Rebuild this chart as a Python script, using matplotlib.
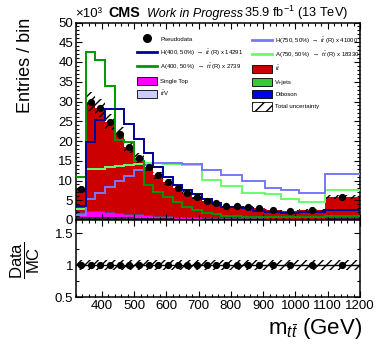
import numpy as np
import matplotlib
matplotlib.use('Agg')
import matplotlib.pyplot as plt
from matplotlib.patches import Patch
from matplotlib.lines import Line2D
from matplotlib.ticker import MultipleLocator

plt.rcParams['font.family'] = ['Liberation Sans', 'DejaVu Sans']
plt.rcParams['mathtext.fontset'] = 'custom'
plt.rcParams['mathtext.rm'] = 'Liberation Sans'
plt.rcParams['mathtext.it'] = 'Liberation Sans:italic'
plt.rcParams['mathtext.bf'] = 'Liberation Sans:bold'
plt.rcParams['hatch.linewidth'] = 1.0
plt.rcParams['hatch.color'] = 'black'

# bin edges m_tt (GeV)
edges = [320, 350, 380, 410, 440, 470, 500, 530, 560, 590, 620, 650, 680, 710,
         740, 770, 800, 835, 870, 905, 955, 1010, 1090, 1200]

# contenidos por bin (x10^3 entries)
pseudodata = [7.8, 29.9, 28.4, 24.9, 21.7, 18.4, 15.7, 13.4, 11.3, 9.7, 8.2, 6.9,
              5.9, 4.9, 4.2, 3.6, 3.5, 3.3, 3.0, 2.5, 2.4, 2.5, 5.9]
ttbar = [5.75, 27.54, 26.19, 22.85, 19.89, 16.8, 14.29, 12.13, 10.18, 8.74, 7.33, 6.12,
         5.2, 4.28, 3.66, 3.13, 3.03, 2.91, 2.62, 2.17, 2.09, 2.18, 5.19]
single_top = [1.3, 1.5, 1.4, 1.3, 1.1, 0.95, 0.85, 0.75, 0.65, 0.55, 0.5, 0.45,
              0.4, 0.35, 0.3, 0.25, 0.25, 0.2, 0.2, 0.15, 0.15, 0.15, 0.3]
vjets = [0.5, 0.5, 0.45, 0.4, 0.38, 0.35, 0.3, 0.28, 0.25, 0.22, 0.2, 0.18,
         0.16, 0.15, 0.13, 0.12, 0.12, 0.1, 0.1, 0.1, 0.09, 0.1, 0.25]
diboson = [0.05, 0.06, 0.06, 0.05, 0.05, 0.05, 0.04, 0.04, 0.04, 0.03, 0.03, 0.03,
           0.03, 0.02, 0.02, 0.02, 0.02, 0.02, 0.02, 0.02, 0.02, 0.02, 0.04]
ttv = [0.2, 0.3, 0.3, 0.3, 0.28, 0.25, 0.22, 0.2, 0.18, 0.16, 0.14, 0.12,
       0.11, 0.1, 0.09, 0.08, 0.08, 0.07, 0.06, 0.06, 0.05, 0.05, 0.12]
rel_unc = [0.08, 0.08, 0.08, 0.08, 0.08, 0.08, 0.08, 0.08, 0.08, 0.08, 0.08, 0.08,
           0.08, 0.08, 0.08, 0.08, 0.08, 0.08, 0.08, 0.08, 0.08, 0.08, 0.08]

# señales escaladas
h400 = [3.5, 19.8, 25.4, 28.0, 28.0, 24.4, 20.4, 17.0, 13.5, 10.8, 8.9, 7.6,
        6.6, 5.3, 4.4, 3.4, 3.4, 3.0, 2.3, 1.9, 1.7, 2.0, 2.5]
a400 = [10.8, 42.5, 40.5, 33.9, 20.3, 19.8, 15.0, 8.8, 7.2, 5.8, 4.6, 3.4,
        2.5, 1.8, 1.4, 1.1, 0.9, 0.8, 0.8, 0.7, 0.7, 0.7, 0.9]
h750 = [1.2, 5.3, 6.8, 8.3, 10.0, 11.2, 12.6, 14.0, 14.5, 14.5, 14.5, 14.3,
        14.3, 12.7, 12.7, 11.3, 11.3, 9.8, 9.8, 8.2, 7.5, 6.9, 11.6]
a750 = [2.8, 12.8, 13.0, 13.3, 13.6, 13.9, 14.2, 14.4, 14.4, 14.3, 14.2, 14.0,
        14.0, 10.2, 10.2, 8.7, 8.7, 6.8, 6.8, 6.5, 5.3, 4.5, 7.6]

c_ttbar, c_st, c_vj, c_db, c_ttv = '#cc0000', '#ff00ff', '#33cc33', '#0000ee', '#ccccff'
c_h400, c_a400, c_h750, c_a750 = '#000099', '#009900', '#7777ff', '#66ff66'

edges_a = np.array(edges, dtype=float)
centers = 0.5 * (edges_a[1:] + edges_a[:-1])

fig = plt.figure(figsize=(3.77, 3.52), dpi=100)
ax = fig.add_axes([76/377, 1 - 220/352, 284/377, 197.5/352])
rax = fig.add_axes([76/377, 1 - 297/352, 284/377, 77/352])

# stack
bottom = np.zeros(len(ttbar))
for vals, col, ec, lw in [(vjets, c_vj, 'black', 0.4), (diboson, c_db, 'black', 0.4),
                          (ttv, c_ttv, 'black', 0.4), (single_top, c_st, 'black', 0.4),
                          (ttbar, c_ttbar, c_ttbar, 0.0)]:
    top = bottom + np.array(vals)
    ax.stairs(top, edges, baseline=bottom, fill=True, facecolor=col,
              edgecolor=ec, linewidth=lw)
    bottom = top
mc_total = bottom
unc = np.array(rel_unc)

ax.stairs(mc_total * (1 + unc), edges, baseline=mc_total * (1 - unc), fill=True,
          facecolor='none', edgecolor='black', hatch='////', linewidth=0.0, zorder=3)

for vals, col in [(a750, c_a750), (h750, c_h750), (a400, c_a400), (h400, c_h400)]:
    ax.stairs(vals, edges, color=col, linewidth=1.4, baseline=None, zorder=4)

ax.plot(centers, pseudodata, 'o', color='black', ms=4.2, zorder=5)

ax.set_xlim(320, 1200)
ax.set_ylim(0, 50)
ax.xaxis.set_major_locator(MultipleLocator(100))
ax.xaxis.set_minor_locator(MultipleLocator(20))
ax.yaxis.set_major_locator(MultipleLocator(5))
ax.yaxis.set_minor_locator(MultipleLocator(1))
ax.set_xticklabels([])

# ratio
ratio = np.array(pseudodata) / mc_total
rax.stairs(1 + unc, edges, baseline=1 - unc, fill=True, facecolor='none',
           edgecolor='black', hatch='////', linewidth=0.0)
rax.axhline(1, color='black', lw=1)
rax.plot(centers, ratio, 'o', color='black', ms=4.2, zorder=5)
rax.set_xlim(320, 1200)
rax.set_ylim(0.5, 1.71)
rax.xaxis.set_major_locator(MultipleLocator(100))
rax.xaxis.set_minor_locator(MultipleLocator(20))
rax.yaxis.set_minor_locator(MultipleLocator(0.25))
rax.set_yticks([0.5, 1, 1.5])
rax.set_yticklabels(['0.5', '1', '1.5'])

for a in (ax, rax):
    a.tick_params(which='both', direction='in', top=True, right=True,
                  labelsize=9.5, width=0.8, pad=2)
    a.tick_params(which='major', length=4.5)
    a.tick_params(which='minor', length=2.3)
    for s in a.spines.values():
        s.set_linewidth(1.1)

# textos
fig.text(26/377, 1 - 65/352, 'Entries / bin', rotation=90, ha='center', va='center', fontsize=13)
fig.text(25/377, 1 - 260/352, r'$\dfrac{\mathrm{Data}}{\mathrm{MC}}$', rotation=90,
         ha='center', va='center', fontsize=12)
fig.text(362/377, 1 - 334/352, r'm$_{t\bar{t}}$ (GeV)', ha='right', va='baseline', fontsize=16)
fig.text(75/377, 1 - 17/352, '×10³', ha='left', va='baseline', fontsize=9.5)
fig.text(108/377, 1 - 17/352, 'CMS', ha='left', va='baseline', fontsize=10.3, weight='bold')
fig.text(147/377, 1 - 17/352, 'Work in Progress', ha='left', va='baseline', fontsize=9, style='italic')
fig.text(348/377, 1 - 17/352, r'35.9 fb$^{-1}$ (13 TeV)', ha='right', va='baseline', fontsize=9.2)

# leyenda en dos columnas
arrow = r'$\rightarrow$ $t\bar{t}$ (R)'
h1 = [Line2D([], [], marker='o', color='black', ls='none', ms=5.5),
      Line2D([], [], color=c_h400, lw=2),
      Line2D([], [], color=c_a400, lw=2),
      Patch(facecolor=c_st, edgecolor='black', lw=0.6),
      Patch(facecolor=c_ttv, edgecolor='black', lw=0.6)]
l1 = ['Pseudodata', 'H(400, 50%) ' + arrow + ' x 14291', 'A(400, 50%)  ' + arrow + ' x 2739',
      'Single Top', r'$t\bar{t}$V']
h2 = [Line2D([], [], color=c_h750, lw=2),
      Line2D([], [], color=c_a750, lw=2),
      Patch(facecolor=c_ttbar, edgecolor='black', lw=0.6),
      Patch(facecolor=c_vj, edgecolor='black', lw=0.6),
      Patch(facecolor=c_db, edgecolor='black', lw=0.6),
      Patch(facecolor='white', edgecolor='black', lw=0.6, hatch='///')]
l2 = ['H(750, 50%) ' + arrow + ' x 41000', 'A(750, 50%)  ' + arrow + ' x 18330',
      r'$t\bar{t}$', 'V+jets', 'Diboson', 'Total uncertainty']
opts = dict(fontsize=4.3, frameon=False, handlelength=3.4, handleheight=1.7,
            labelspacing=0.72, handletextpad=0.5, borderpad=0, borderaxespad=0,
            loc='upper left', bbox_transform=fig.transFigure)
leg1 = ax.legend(h1, l1, bbox_to_anchor=(137/377, 1 - 35.5/352), **opts)
ax.add_artist(leg1)
ax.legend(h2, l2, bbox_to_anchor=(252/377, 1 - 35.5/352), **opts)

fig.savefig('out.png', dpi=100)
